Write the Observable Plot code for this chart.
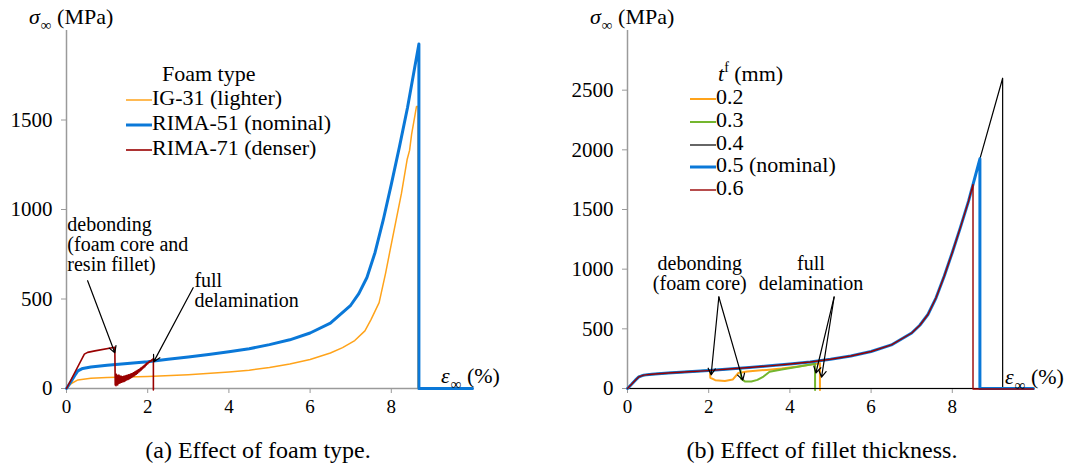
<!DOCTYPE html>
<html><head><meta charset="utf-8">
<script src="https://cdn.jsdelivr.net/npm/d3@7"></script>
<script src="https://cdn.jsdelivr.net/npm/@observablehq/plot@0.6"></script>
<style>
body{margin:0;background:#fff;}
#wrap{position:relative;width:1088px;height:468px;overflow:hidden;font-family:"Liberation Serif",serif;color:#000;}
.panel{position:absolute;top:0;}
.lab{position:absolute;white-space:nowrap;line-height:1;transform:translateY(-50%);}
.cap{position:absolute;white-space:nowrap;line-height:1;transform:translate(-50%,-50%);font-size:24px;}
.sub{font-size:15px;position:relative;top:6px;margin-left:1px;}
.sup{font-size:14px;position:relative;top:-9px;}
.leg svg{vertical-align:middle;}
svg text{font-family:"Liberation Serif",serif;}
</style></head>
<body><div id="wrap"></div>
<script>
// ---------- data (strain %, stress MPa) ----------
const mainCurve = [[0,0],[0.1,35],[0.2,72],[0.28,98],[0.4,112],[0.6,120],[1,130],[1.5,140],[2,150],[2.5,163],[3,176],[3.5,190],[4,205],[4.5,222],[5,245],[5.5,272],[6,310],[6.5,365],[7,465],[7.2,530],[7.4,620],[7.6,760],[7.8,940],[8,1140],[8.2,1350],[8.4,1570]];
const nominalEnd = [[8.68,1925],[8.68,0],[10,0]];
const ig31 = [[0,0],[0.12,28],[0.28,48],[0.6,57],[1,61],[2,67],[3,77],[4,92],[4.5,102],[5,117],[5.5,137],[6,162],[6.5,198],[6.8,228],[7.1,268],[7.35,322],[7.5,385],[7.7,480],[7.86,645],[7.96,760],[8.1,920],[8.25,1090],[8.39,1279],[8.45,1330],[8.5,1420],[8.62,1575],[8.66,1575],[8.66,0]];
const rima71 = [[0,0],[0.44,192],[0.52,202],[0.7,210],[1.19,230],[1.2,20],
 [1.21,70],[1.22,15],[1.23,80],[1.24,25],[1.25,72],[1.26,20],[1.27,68],[1.28,28],[1.29,75],[1.3,30],[1.32,70],[1.33,32],[1.35,68],[1.36,35],[1.38,66],[1.39,38],[1.41,68],[1.42,40],[1.44,70],[1.45,44],[1.47,72],[1.48,48],[1.5,74],[1.51,50],[1.53,76],[1.54,54],[1.56,78],[1.57,58],[1.59,82],[1.6,62],[1.62,84],[1.63,66],[1.65,88],[1.66,70],[1.68,92],[1.69,76],[1.71,96],[1.72,80],[1.74,100],[1.75,86],[1.77,104],[1.78,92],[1.8,108],[1.81,98],[1.83,114],[1.84,104],[1.86,118],[1.87,110],[1.89,124],[1.9,116],[1.92,130],[1.93,122],[1.95,136],[1.96,130],[1.98,142],[2,138],[2.02,148],[2.04,146],[2.06,154],[2.08,152],[2.1,160],[2.12,160],[2.14,168],[2.14,-8]];
const t02Tail = [[2.03,150],[2.04,90],[2.1,80],[2.16,70],[2.4,62],[2.59,75],[2.73,130],[2.95,143],[3.42,156],[3.8,168],[4.2,185],[4.6,205],[4.74,212],[4.74,-12]];
const t03Tail = [[2.78,170],[2.8,80],[2.9,58],[3.05,58],[3.2,72],[3.35,100],[3.5,140],[3.8,160],[4.2,182],[4.62,208],[4.62,-12]];
const t04Tail = [[8.68,1925],[9.24,2600],[9.24,0],[0,0]];
const t06Tail = [[8.51,1710],[8.51,-4],[10,-4]];

const foamTypes = ["IG-31 (lighter)","RIMA-51 (nominal)","RIMA-71 (denser)"];
const filletLabels = ["0.2","0.3","0.4","0.5 (nominal)","0.6"];
const xTicks = [0,2,4,6,8];
const yTicksL = [0,500,1000,1500];
const yTicksR = [0,500,1000,1500,2000,2500];

const annL = [
  {x:0.02, y:960, text:"debonding\n(foam core and\nresin fillet)", anchor:"start"},
  {x:3.15, y:645, text:"full\ndelamination", anchor:"start"}
];
const arrowsL = [
  {x1:0.52, y1:602, x2:1.19, y2:200},
  {x1:3.12, y1:563, x2:2.15, y2:150}
];
const annR = [
  {x:1.78, y:1115, text:"debonding\n(foam core)", anchor:"middle"},
  {x:4.52, y:1115, text:"full\ndelamination", anchor:"start"}
];
const arrowsR = [
  {x1:2.25, y1:767, x2:2.06, y2:115},
  {x1:2.25, y1:767, x2:2.84, y2:70},
  {x1:5.09, y1:767, x2:4.64, y2:130},
  {x1:5.09, y1:767, x2:4.78, y2:95}
];

// ---------- styles ----------
const FONT = '"Liberation Serif",serif';
const C = {orange:"#ffa31a", blue:"#0a78d8", red:"#990000", green:"#74b62e", black:"#000"};
const X = d=>d[0], Y = d=>d[1];
const base = {width:544, height:420, marginTop:30, marginBottom:32,
  style:{fontFamily:FONT, fontSize:"21px", background:"transparent", overflow:"visible"}};
function axes(yt){
  return [
    Plot.ruleY([0],{stroke:"#9a9a9a",strokeWidth:1.5}),
    Plot.ruleX([0],{stroke:"#9a9a9a",strokeWidth:1.5}),
    Plot.axisY({ticks:yt, tickFormat:"d", tickSize:5, tickPadding:9, stroke:"#9a9a9a", label:null, fontSize:21}),
    Plot.axisX({ticks:xTicks, tickFormat:"d", tickSize:5, tickPadding:6, stroke:"#9a9a9a", label:null, fontSize:19})
  ];
}
const ln = (data, stroke, w) => Plot.line(data,{x:X,y:Y,stroke,strokeWidth:w,strokeLinejoin:"round"});

const left = Plot.plot({...base, marginLeft:66, marginRight:72,
  x:{domain:[0,10]}, y:{domain:[0,2000]},
  marks:[
    ...axes(yTicksL),
    ln(ig31, C.orange, 1.5),
    ln([...mainCurve, ...nominalEnd], C.blue, 3),
    ln(rima71, C.red, 1.6),
    Plot.arrow(arrowsL,{x1:"x1",y1:"y1",x2:"x2",y2:"y2",stroke:"black",strokeWidth:1.2,headLength:9}),
    Plot.text(annL,{x:"x",y:"y",text:"text",textAnchor:"start",lineAnchor:"top",lineHeight:1.0,fontSize:20})
  ]});

const right = Plot.plot({...base, marginLeft:83, marginRight:55,
  x:{domain:[0,10]}, y:{domain:[0,3000]},
  marks:[
    ...axes(yTicksR),
    ln([...mainCurve.filter(d=>d[0]<=2), ...t02Tail], C.orange, 2),
    ln([...mainCurve.filter(d=>d[0]<=2.5), ...t03Tail], C.green, 2),
    ln([...mainCurve, ...t04Tail], C.black, 1.2),
    ln([...mainCurve, ...nominalEnd], C.blue, 3),
    ln([...mainCurve, ...t06Tail], C.red, 1.4),
    Plot.arrow(arrowsR,{x1:"x1",y1:"y1",x2:"x2",y2:"y2",stroke:"black",strokeWidth:1.2,headLength:9}),
    Plot.text(annR,{x:"x",y:"y",text:"text",textAnchor:d=>d.anchor,lineAnchor:"top",lineHeight:1.0,fontSize:20})
  ]});

const wrap = document.getElementById("wrap");
left.classList.add("panel"); left.style.left="0px";
right.classList.add("panel"); right.style.left="544px";
wrap.appendChild(left); wrap.appendChild(right);

function addHTML(html){ const d=document.createElement("div"); d.innerHTML=html; while(d.firstChild) wrap.appendChild(d.firstChild); }

// axis labels
addHTML(`<span class="lab" style="left:29px;top:17px;font-size:22px"><i>σ</i><span class="sub">∞</span> (MPa)</span>`);
addHTML(`<span class="lab" style="left:590px;top:17px;font-size:22px"><i>σ</i><span class="sub">∞</span> (MPa)</span>`);
addHTML(`<span class="lab" style="left:441px;top:376px;font-size:22px"><i>ε</i><span class="sub">∞</span> (%)</span>`);
addHTML(`<span class="lab" style="left:1005px;top:377px;font-size:22px"><i>ε</i><span class="sub">∞</span> (%)</span>`);

// legends
const foamColors = [C.orange, C.blue, C.red], foamW = [1.5,3,1.6];
addHTML(`<span class="lab" style="left:162px;top:74px;font-size:22px">Foam type</span>`);
foamTypes.forEach((t,i)=>{
  addHTML(`<span class="lab leg" style="left:126px;top:${98+i*25}px;font-size:22px"><svg width="26" height="10"><line x1="0" x2="26" y1="5" y2="5" stroke="${foamColors[i]}" stroke-width="${foamW[i]}"/></svg>${t}</span>`);
});
const filColors = [C.orange, C.green, C.black, C.blue, C.red], filW=[2,2,1.2,3,1.4];
addHTML(`<span class="lab" style="left:718px;top:74px;font-size:22px"><i>t</i><span class="sup">f</span> (mm)</span>`);
filletLabels.forEach((t,i)=>{
  addHTML(`<span class="lab leg" style="left:690px;top:${97+i*22.8}px;font-size:22px"><svg width="26" height="10"><line x1="0" x2="26" y1="5" y2="5" stroke="${filColors[i]}" stroke-width="${filW[i]}"/></svg>${t}</span>`);
});

// captions
addHTML(`<span class="cap" style="left:258px;top:450px">(a) Effect of foam type.</span>`);
addHTML(`<span class="cap" style="left:822px;top:450px">(b) Effect of fillet thickness.</span>`);
</script>
</body></html>
